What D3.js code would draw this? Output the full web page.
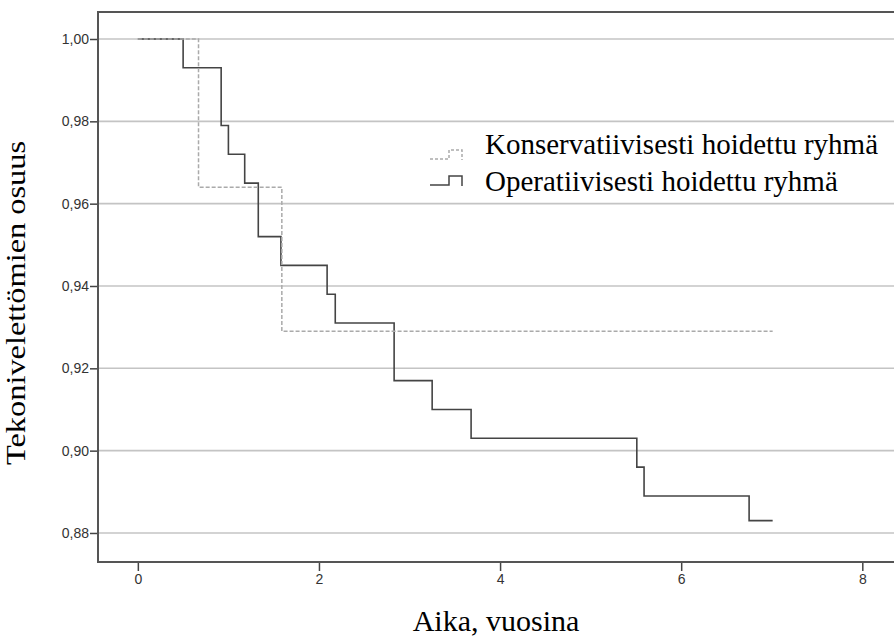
<!DOCTYPE html>
<html>
<head>
<meta charset="utf-8">
<script src="https://cdn.jsdelivr.net/npm/d3@7"></script>
<style>
  body { margin: 0; background: #fff; }
  svg { display: block; }
</style>
</head>
<body>
<div id="root"></div>
<script>
// Kaplan-Meier steps (time in years, share without prosthesis)
const operTimes = [0, 0.50, 0.92, 1.00, 1.18, 1.33, 1.58, 2.09, 2.18, 2.83, 3.25, 3.68, 5.51, 5.59, 6.75, 7.01];
const operSurv  = [1.000, 0.993, 0.979, 0.972, 0.965, 0.952, 0.945, 0.938, 0.931, 0.917, 0.910, 0.903, 0.896, 0.889, 0.883, 0.883];

const konsTimes = [0, 0.67, 1.59, 7.01];
const konsSurv  = [1.000, 0.964, 0.929, 0.929];

const yTicks = [0.88, 0.90, 0.92, 0.94, 0.96, 0.98, 1.00];
const xTicks = [0, 2, 4, 6, 8];

const seriesNames = ["Konservatiivisesti hoidettu ryhmä", "Operatiivisesti hoidettu ryhmä"];

const width = 894;
const height = 637;
const plotLeft = 98, plotTop = 12, plotBottom = 562;

const x = d3.scaleLinear().domain([-0.44, 8.35]).range([plotLeft, width]);
const y = d3.scaleLinear().domain([0.87295, 1.00656]).range([plotBottom, plotTop]);

const svg = d3.select("#root").append("svg")
  .attr("width", width)
  .attr("height", height);

// grid lines
svg.append("g").selectAll("line")
  .data(yTicks)
  .join("line")
  .attr("x1", plotLeft).attr("x2", width)
  .attr("y1", d => y(d)).attr("y2", d => y(d))
  .attr("stroke", "#c4c4c4")
  .attr("stroke-width", 1.6);

// axes
const fmt = d => d3.format(".2f")(d).replace(".", ",");
const yAxis = svg.append("g")
  .attr("transform", `translate(${plotLeft},0)`)
  .call(d3.axisLeft(y).tickValues(yTicks).tickFormat(fmt).tickSize(8).tickPadding(1));
const xAxis = svg.append("g")
  .attr("transform", `translate(0,${plotBottom})`)
  .call(d3.axisBottom(x).tickValues(xTicks).tickFormat(d3.format("d")).tickSize(9).tickPadding(3));

[yAxis, xAxis].forEach(g => {
  g.select(".domain").remove();
  g.selectAll(".tick line").attr("stroke", "#444").attr("stroke-width", 1.5);
  g.selectAll(".tick text")
    .attr("fill", "#333")
    .style("font-family", "'Liberation Sans', Arial, sans-serif")
    .style("font-size", "14px");
});

// frame (top, left, bottom)
svg.append("path")
  .attr("d", `M${width},${plotTop}H${plotLeft}V${plotBottom}H${width}`)
  .attr("fill", "none")
  .attr("stroke", "#555")
  .attr("stroke-width", 2);

// step curves
const line = d3.line()
  .x(d => x(d[0]))
  .y(d => y(d[1]))
  .curve(d3.curveStepAfter);

svg.append("path")
  .datum(d3.zip(operTimes, operSurv))
  .attr("d", line)
  .attr("fill", "none")
  .attr("stroke", "#444")
  .attr("stroke-width", 1.6);

svg.append("path")
  .datum(d3.zip(konsTimes, konsSurv))
  .attr("d", line)
  .attr("fill", "none")
  .attr("stroke", "#aaa")
  .attr("stroke-width", 1.5)
  .attr("stroke-dasharray", "4,2");

// legend
const legend = svg.append("g");
const legendY = [159, 185];
legend.selectAll("path")
  .data(seriesNames)
  .join("path")
  .attr("d", (d, i) => {
    const b = legendY[i], t = b - 9;
    return `M430,${b}H449V${t}H462V${b + 1}`;
  })
  .attr("fill", "none")
  .attr("stroke", (d, i) => i === 0 ? "#aaa" : "#444")
  .attr("stroke-width", 1.5)
  .attr("stroke-dasharray", (d, i) => i === 0 ? "3,2" : null);

legend.selectAll("text")
  .data(seriesNames)
  .join("text")
  .attr("x", 485)
  .attr("y", (d, i) => [154, 191][i])
  .style("font-family", "'Liberation Serif', 'Times New Roman', serif")
  .style("font-size", "29px")
  .attr("fill", "#000")
  .text(d => d);

// axis titles
svg.append("text")
  .attr("x", 496)
  .attr("y", 631)
  .attr("text-anchor", "middle")
  .style("font-family", "'Liberation Serif', 'Times New Roman', serif")
  .style("font-size", "30px")
  .text("Aika, vuosina");

svg.append("text")
  .attr("transform", "translate(25,303) rotate(-90)")
  .attr("text-anchor", "middle")
  .attr("textLength", 324)
  .attr("lengthAdjust", "spacingAndGlyphs")
  .style("font-family", "'Liberation Serif', 'Times New Roman', serif")
  .style("font-size", "28px")
  .text("Tekonivelettömien osuus");
</script>
</body>
</html>
